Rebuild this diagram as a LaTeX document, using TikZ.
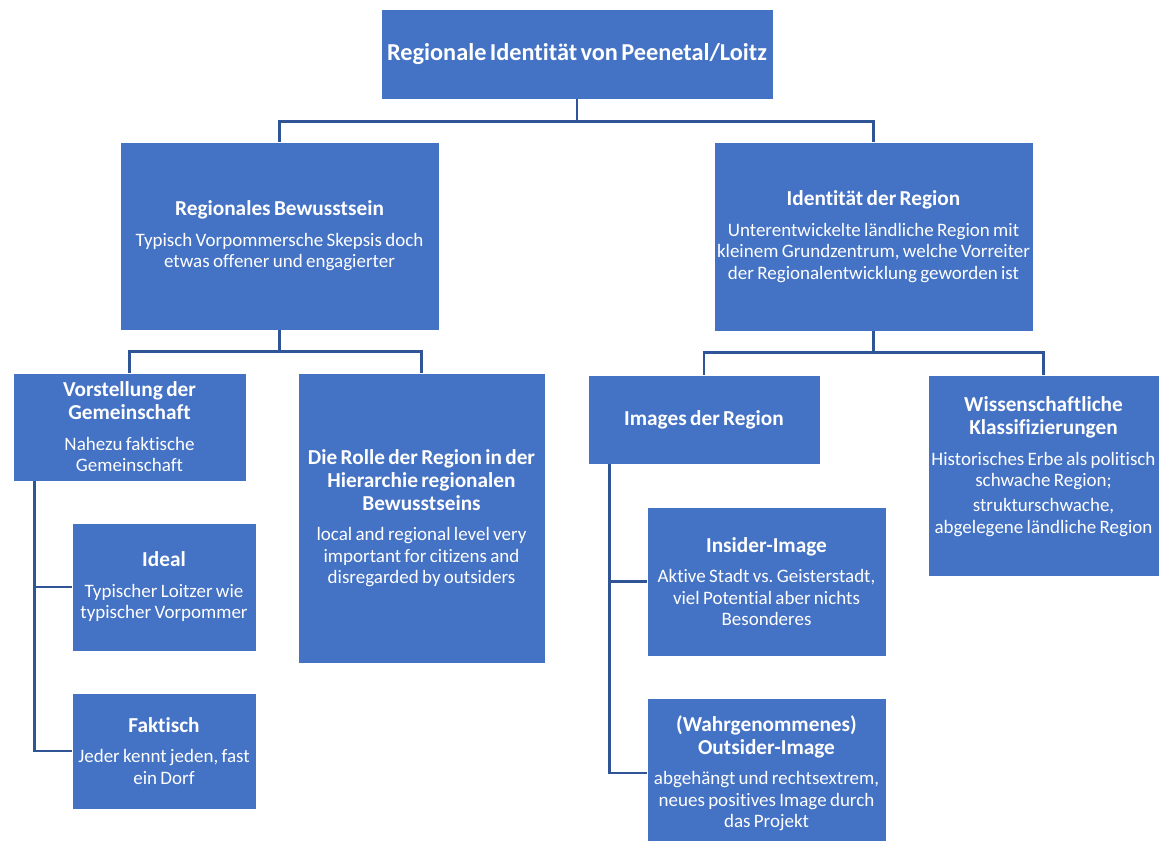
\documentclass[tikz,border=0pt]{standalone}
\usepackage{fontspec}
\setmainfont{Carlito}[Ligatures={NoCommon}]
\definecolor{boxblue}{RGB}{68,114,196}
\definecolor{connblue}{RGB}{47,85,151}
\newcommand{\bt}[2]{{\bfseries\fontsize{21.3}{23}\selectfont #1\par}\vspace{9pt}{\fontsize{19}{21.5}\selectfont #2\par}}
\tikzset{
  box/.style={fill=boxblue, draw=white, line width=0.8pt, text=white, align=center, inner sep=0pt},
  conn/.style={draw=connblue, line width=2.6pt}
}
\begin{document}
\frenchspacing
\begin{tikzpicture}[x=1pt,y=-1pt]
\clip (0,0) rectangle (1160,841);
\fill[white] (0,0) rectangle (1160,841);
% root
\node[box, minimum width=392pt, minimum height=90pt, text width=390pt] (root) at (577,54)
  {\bfseries\fontsize{24.3}{28}\selectfont Regionale Identität von Peenetal/Loitz};
% level 1
\node[box, minimum width=319pt, minimum height=188pt, text width=317pt] (rb) at (279.5,236)
  {\bt{Regionales Bewusstsein}{Typisch Vorpommersche Skepsis doch\\etwas offener und engagierter}};
\node[box, minimum width=319pt, minimum height=189pt, text width=317pt] (idr) at (873.5,236.5)
  {\bt{Identität der Region}{Unterentwickelte ländliche Region mit\\kleinem Grundzentrum, welche Vorreiter\\der Regionalentwicklung geworden ist}};
% level 2 left
\node[box, minimum width=233pt, minimum height=108pt, text width=231pt] (vg) at (129.5,427)
  {\bt{Vorstellung der\\Gemeinschaft}{Nahezu faktische\\Gemeinschaft}};
\node[box, minimum width=247pt, minimum height=290pt, text width=245pt] (rolle) at (421.5,518)
  {\bt{Die Rolle der Region in der\\Hierarchie regionalen\\Bewusstseins}{local and regional level very\\important for citizens and\\disregarded by outsiders}};
% level 2 right
\node[box, minimum width=232pt, minimum height=89pt, text width=230pt] (img) at (704,419.5)
  {{\bfseries\fontsize{21.3}{23}\selectfont Images der Region}};
\node[box, minimum width=231pt, minimum height=201pt, text width=229pt] (wk) at (1043.5,475.5)
  {\bt{Wissenschaftliche\\Klassifizierungen}{Historisches Erbe als politisch\\schwache Region;\par\vspace{3.5pt}strukturschwache,\\abgelegene ländliche Region}\vspace{18pt}};
% level 3 left
\node[box, minimum width=184pt, minimum height=128pt, text width=182pt] (ideal) at (164,587)
  {\bt{Ideal}{Typischer Loitzer wie\\typischer Vorpommer}};
\node[box, minimum width=184pt, minimum height=116pt, text width=182pt] (fakt) at (164,751)
  {\bt{Faktisch}{Jeder kennt jeden, fast\\ein Dorf}};
% level 3 right
\node[box, minimum width=239pt, minimum height=149pt, text width=237pt] (ins) at (766.5,581.5)
  {\bt{Insider-Image}{Aktive Stadt vs. Geisterstadt,\\viel Potential aber nichts\\Besonderes}};
\node[box, minimum width=239pt, minimum height=150pt, text width=237pt] (out) at (766.5,773)
  {\bt{(Wahrgenommenes)\\Outsider-Image}{abgehängt und rechtsextrem,\\neues positives Image durch\\das Projekt}};
% connectors
\draw[conn] (root.south) -- ++(0,22) -| (rb.north);
\draw[conn] (root.south) -- ++(0,22) -| (idr.north);
\draw[conn] (rb.south) -- ++(0,21) -| (vg.north);
\draw[conn] (rb.south) -- ++(0,21) -| (rolle.north);
\draw[conn] (idr.south) -- ++(0,21) -| (img.north);
\draw[conn] (idr.south) -- ++(0,21) -| (wk.north);
\draw[conn] (vg.south west) ++(22,0) |- (ideal.west);
\draw[conn] (vg.south west) ++(22,0) |- (fakt.west);
\draw[conn] (img.south west) ++(22,0) |- (ins.west);
\draw[conn] (img.south west) ++(22,0) |- (out.west);
\end{tikzpicture}
\end{document}
